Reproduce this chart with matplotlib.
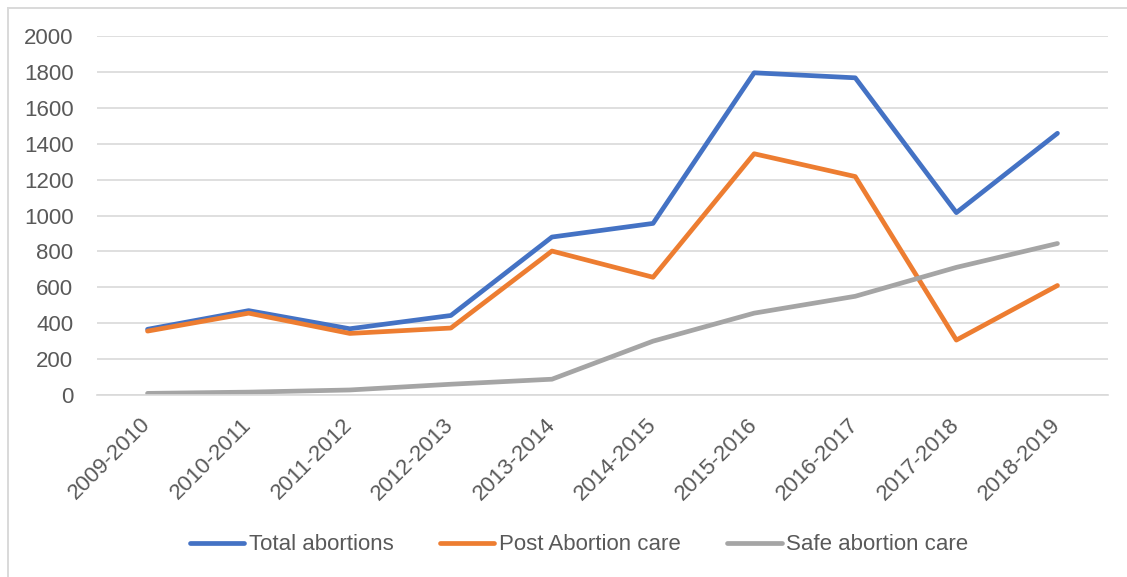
import matplotlib
matplotlib.use("Agg")
import matplotlib.pyplot as plt
from matplotlib.lines import Line2D

categories = ["2009-2010", "2010-2011", "2011-2012", "2012-2013", "2013-2014",
              "2014-2015", "2015-2016", "2016-2017", "2017-2018", "2018-2019"]
total_abortions = [366, 470, 369, 443, 880, 956, 1795, 1767, 1016, 1458]
post_abortion_care = [356, 456, 343, 373, 802, 656, 1344, 1217, 306, 610]
safe_abortion_care = [9, 16, 28, 60, 88, 300, 456, 550, 711, 844]
y_ticks = [0, 200, 400, 600, 800, 1000, 1200, 1400, 1600, 1800, 2000]

plt.rcParams['font.family'] = ['Liberation Sans', 'DejaVu Sans']
FS = 16

fig = plt.figure(figsize=(11.27, 5.77), dpi=100)
# chart-area border (only top and left edges are visible in the crop)
fig.lines.append(Line2D([7.5/1127, 1.0], [1 - 7.5/577] * 2, transform=fig.transFigure,
                        color='#D9D9D9', lw=1.4))
fig.lines.append(Line2D([7.5/1127] * 2, [0.0, 1 - 7.5/577], transform=fig.transFigure,
                        color='#D9D9D9', lw=1.4))
ax = fig.add_axes([97/1127, 1 - 395/577, (1108-97)/1127, (395-36)/577])

x = list(range(len(categories)))
kw = dict(lw=3.4, solid_capstyle='round', solid_joinstyle='round')
ax.plot(x, total_abortions, color='#4472C4', label='Total abortions', **kw)
ax.plot(x, post_abortion_care, color='#ED7D31', label='Post Abortion care', **kw)
ax.plot(x, safe_abortion_care, color='#A5A5A5', label='Safe abortion care', **kw)

ax.set_xlim(-0.5, len(categories) - 0.5)
ax.set_ylim(0, 2000)
ax.set_yticks(y_ticks)
ax.set_yticklabels([str(v) for v in y_ticks])
ax.set_xticks(x)
ax.set_xticklabels(categories, rotation=45, ha='right', va='center', rotation_mode='anchor')
ax.tick_params(axis='both', length=0, labelsize=FS, colors='#595959')
ax.tick_params(axis='y', pad=17)
ax.tick_params(axis='x', pad=19)
ax.grid(axis='y', color='#D9D9D9', lw=1.2)
ax.set_axisbelow(True)
for s in ['top', 'right', 'left']:
    ax.spines[s].set_visible(False)
ax.spines['bottom'].set_color('#D9D9D9')
ax.spines['bottom'].set_linewidth(1.2)

leg = fig.legend(loc='center', bbox_to_anchor=(579/1127, 1 - 545/577), ncol=3, frameon=False,
                 fontsize=FS, handlelength=2.45, columnspacing=2.1, handletextpad=0.2)
for t in leg.get_texts():
    t.set_color('#595959')

fig.savefig('out.png', dpi=100)
